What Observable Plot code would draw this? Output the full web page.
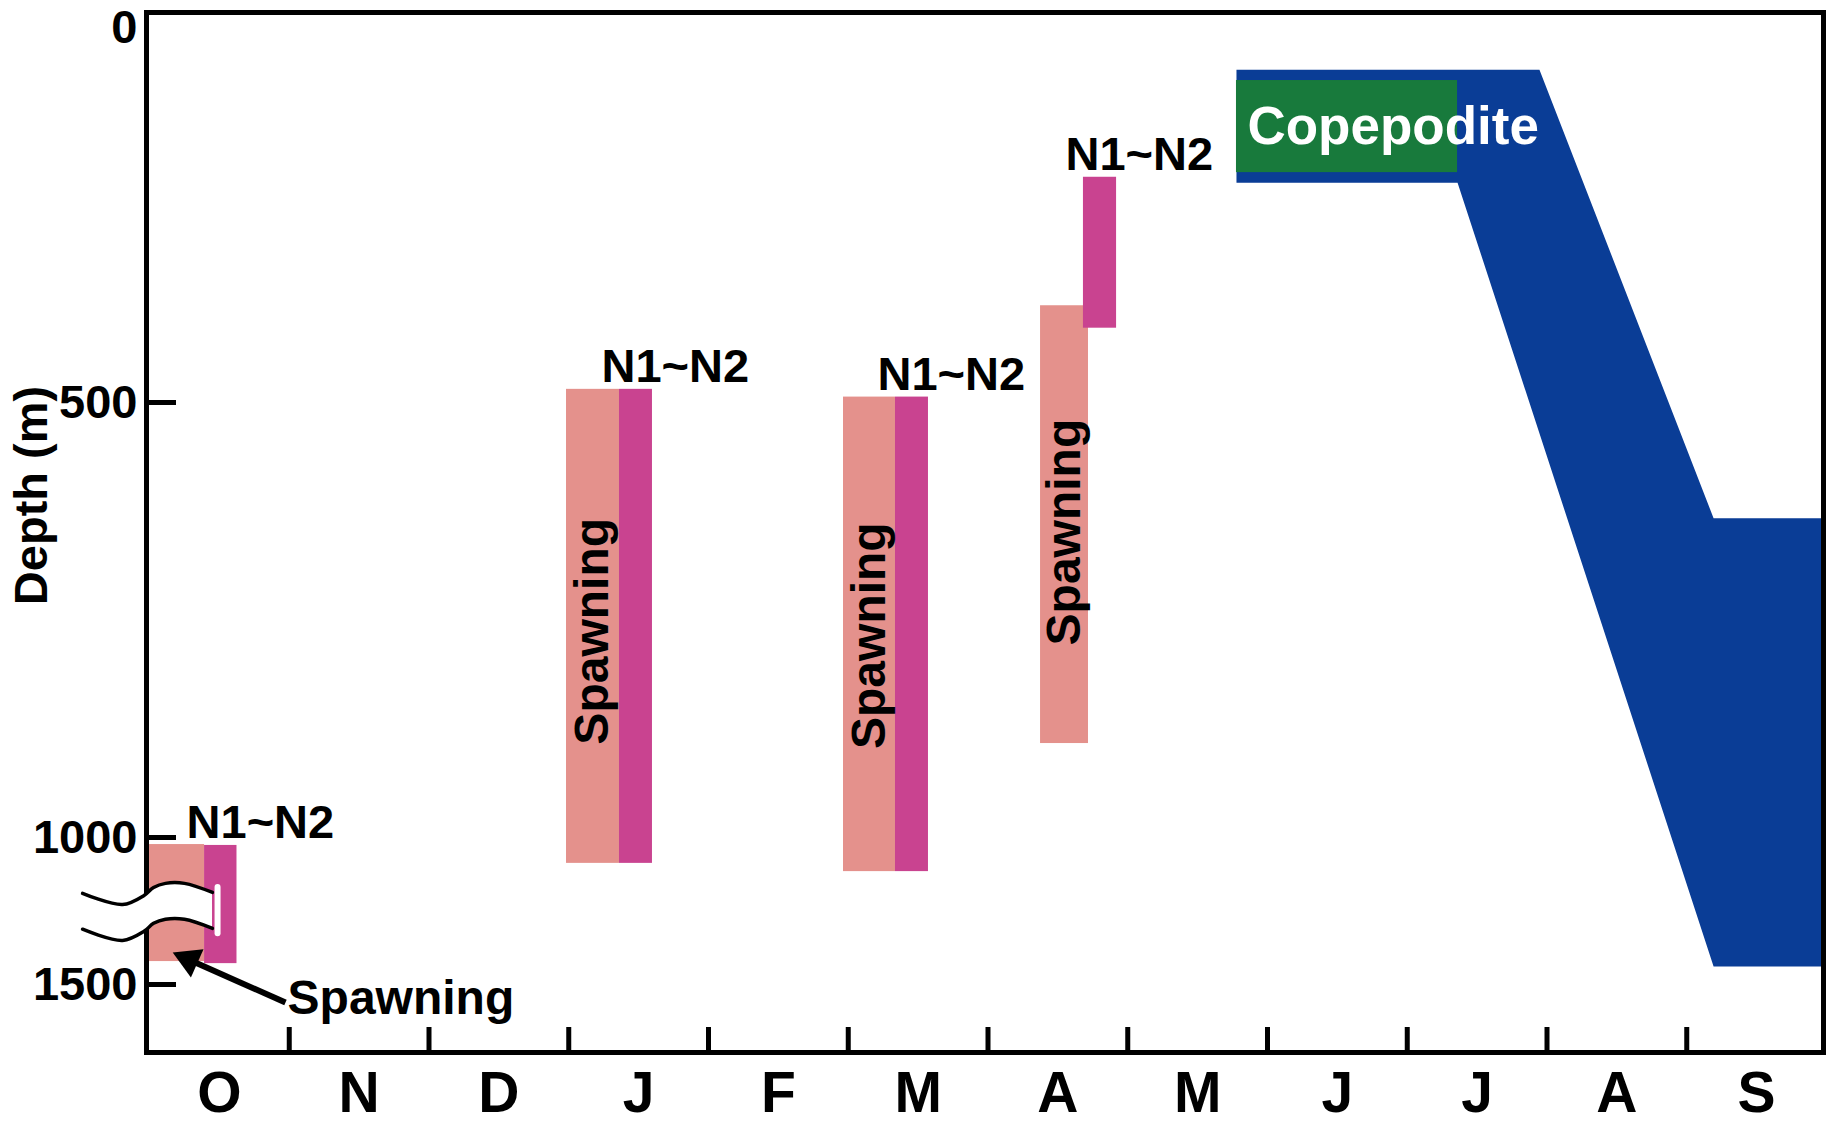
<!DOCTYPE html>
<html><head><meta charset="utf-8">
<script src="https://cdn.jsdelivr.net/npm/d3@7"></script>
<script src="https://cdn.jsdelivr.net/npm/@observablehq/plot@0.6"></script>
<style>body{margin:0;background:#fff}</style>
</head><body><div id="chart"></div>
<script>
// ---- data (month index: 0 = start of October, 12 = end of September; depth in m)
const monthLabels = ["O","N","D","J","F","M","A","M","J","J","A","S"];
const depthTicks = [0, 500, 1000, 1500];
const groups = ["Oct","Jan","Mar","Apr"];
const spawnStart  = [0, 2.984, 4.966, 6.376];
const spawnEnd    = [0.394, 3.363, 5.338, 6.719];
const spawnTop    = [1024, 483, 493, 375];
const spawnBottom = [1422, 1088, 1116, 892];
const spawnLabelDepth = [null, 763, 768, 649];
const naupStart   = [0.394, 3.363, 5.338, 6.683];
const naupEnd     = [0.626, 3.599, 5.574, 6.920];
const naupTop     = [1027, 483, 493, 209];
const naupBottom  = [1429, 1088, 1116, 404];
const copeMonth = [7.778, 9.946, 11.192, 12, 12, 11.192, 9.360, 7.778];
const copeDepth = [70, 70, 633, 633, 1439, 1439, 216, 216];
const copeBoxMonth = [7.778, 9.360];
const copeBoxDepth = [84, 203];
// axis break marks
const breakMonth = [-0.479, -0.193, -0.039, 0.029, 0.114, 0.250, 0.451];
const breakUpper = [1190, 1228, 1197, 1170, 1156, 1156, 1187];
const breakLower = [1312, 1350, 1319, 1292, 1278, 1278, 1309];
const breakSlit = {m: 0.487, d1: 1170, d2: 1327};
// annotation arrow for October spawning
const arrowFrom = {m: 0.973, d: 1561};
const arrowHead = {m: 0.283, d: 1416};
const arrowLabel = {m: 0.988, d: 1548, text: "Spawning"};

const PINK = "#E4918C", MAGENTA = "#C94390", BLUE = "#0A3D96", GREEN = "#187A3C";

const spawn = groups.map((g, i) => ({g, x1: spawnStart[i], x2: spawnEnd[i], y1: spawnTop[i], y2: spawnBottom[i], ly: spawnLabelDepth[i]}));
const naup = groups.map((g, i) => ({g, x1: naupStart[i], x2: naupEnd[i], y1: naupTop[i], y2: naupBottom[i]}));
const cope = copeMonth.map((m, i) => ({m, d: copeDepth[i]}));
const brk = breakMonth.map((m, i) => ({m, u: breakUpper[i], l: breakLower[i]}));
const brkLines = brk.flatMap(b => [{m: b.m, d: b.u, k: "u"}, {m: b.m, d: b.l, k: "l"}]);

const W = 1826, H = 1124, mL = 146, mR = 3, mT = 12, mB = 72;
const plotW = W - mL - mR, plotH = H - mT - mB;

const chart = Plot.plot({
  width: W, height: H,
  marginLeft: mL, marginRight: mR, marginTop: mT, marginBottom: mB,
  x: {type: "linear", domain: [0, 12], range: [149, 1826], axis: null},
  y: {type: "linear", domain: [0, 500, 1000, 1500, 1731], range: [15, 402, 837, 984, 1052], axis: null},
  style: {fontFamily: "'Liberation Sans', Arial, sans-serif", fontWeight: "bold", background: "white", overflow: "visible", color: "black"},
  marks: [
    Plot.line(cope, {x: "m", y: "d", fill: BLUE, stroke: "none"}),
    Plot.rect([0], {x1: () => copeBoxMonth[0], x2: () => copeBoxMonth[1], y1: () => copeBoxDepth[0], y2: () => copeBoxDepth[1], fill: GREEN}),
    Plot.text([0], {x: () => copeBoxMonth[0], y: () => (copeBoxDepth[0] + copeBoxDepth[1]) / 2, text: () => "Copepodite", dx: 11, textAnchor: "start", lineAnchor: "middle", fill: "white", fontSize: 53, fontWeight: "bold"}),
    Plot.rect(spawn, {x1: "x1", x2: "x2", y1: "y1", y2: "y2", fill: PINK}),
    Plot.rect(naup, {x1: "x1", x2: "x2", y1: "y1", y2: "y2", fill: MAGENTA}),
    Plot.text(naup, {x: "x1", y: "y1", text: () => "N1~N2", dx: -18, dy: -22, textAnchor: "start", lineAnchor: "middle", fontSize: 47, fontWeight: "bold", fill: "black"}),
    Plot.text(spawn.slice(1), {x: d => (d.x1 + d.x2) / 2, y: "ly", text: () => "Spawning", rotate: -90, textAnchor: "middle", lineAnchor: "middle", fontSize: 48, fontWeight: "bold", fill: "black"}),
    Plot.frame({stroke: "black", strokeWidth: 5}),
    Plot.ruleY(depthTicks.slice(1), {y: d => d, insetRight: plotW - 30, stroke: "black", strokeWidth: 5}),
    Plot.ruleX(d3.range(1, 12), {x: d => d, insetTop: plotH - 25, stroke: "black", strokeWidth: 5}),
    Plot.axisY(depthTicks.slice(0, 1), {tickSize: 0, tickPadding: 9, dy: 12, fontSize: 47, fontWeight: "bold", label: null, tickFormat: d => String(d)}),
    Plot.axisY(depthTicks.slice(1), {tickSize: 0, tickPadding: 9, fontSize: 47, fontWeight: "bold", label: null, tickFormat: d => String(d)}),
    Plot.axisX(d3.range(12).map(i => i + 0.5), {tickSize: 0, tickPadding: 19, fontSize: 57, fontWeight: "bold", label: null, tickFormat: d => monthLabels[Math.floor(d)]}),
    Plot.text(["Depth (m)"], {frameAnchor: "left", dx: -115, dy: -37, rotate: -90, textAnchor: "middle", lineAnchor: "middle", fontSize: 47, fontWeight: "bold", fill: "black"}),
    // axis break
    Plot.areaY(brk, {x: "m", y1: "u", y2: "l", fill: "white", curve: "catmull-rom"}),
    Plot.line(brkLines, {x: "m", y: "d", z: "k", stroke: "black", strokeWidth: 3.5, curve: "catmull-rom"}),
    Plot.ruleX([breakSlit], {x: "m", y1: "d1", y2: "d2", stroke: "white", strokeWidth: 6, strokeLinecap: "round"}),
    // arrow annotation (shaft + filled head)
    Plot.link([0], {x1: () => arrowFrom.m, y1: () => arrowFrom.d, x2: () => arrowHead.m, y2: () => arrowHead.d, stroke: "black", strokeWidth: 6}),
    Plot.dot([0], {x: () => arrowHead.m, y: () => arrowHead.d, symbol: "triangle", r: 11.5, rotate: -66, fill: "black", stroke: "none"}),
    Plot.text([arrowLabel], {x: "m", y: "d", text: "text", textAnchor: "start", lineAnchor: "middle", fontSize: 48, fontWeight: "bold", fill: "black"})
  ]
});
document.getElementById("chart").appendChild(chart);
</script>
</body></html>
